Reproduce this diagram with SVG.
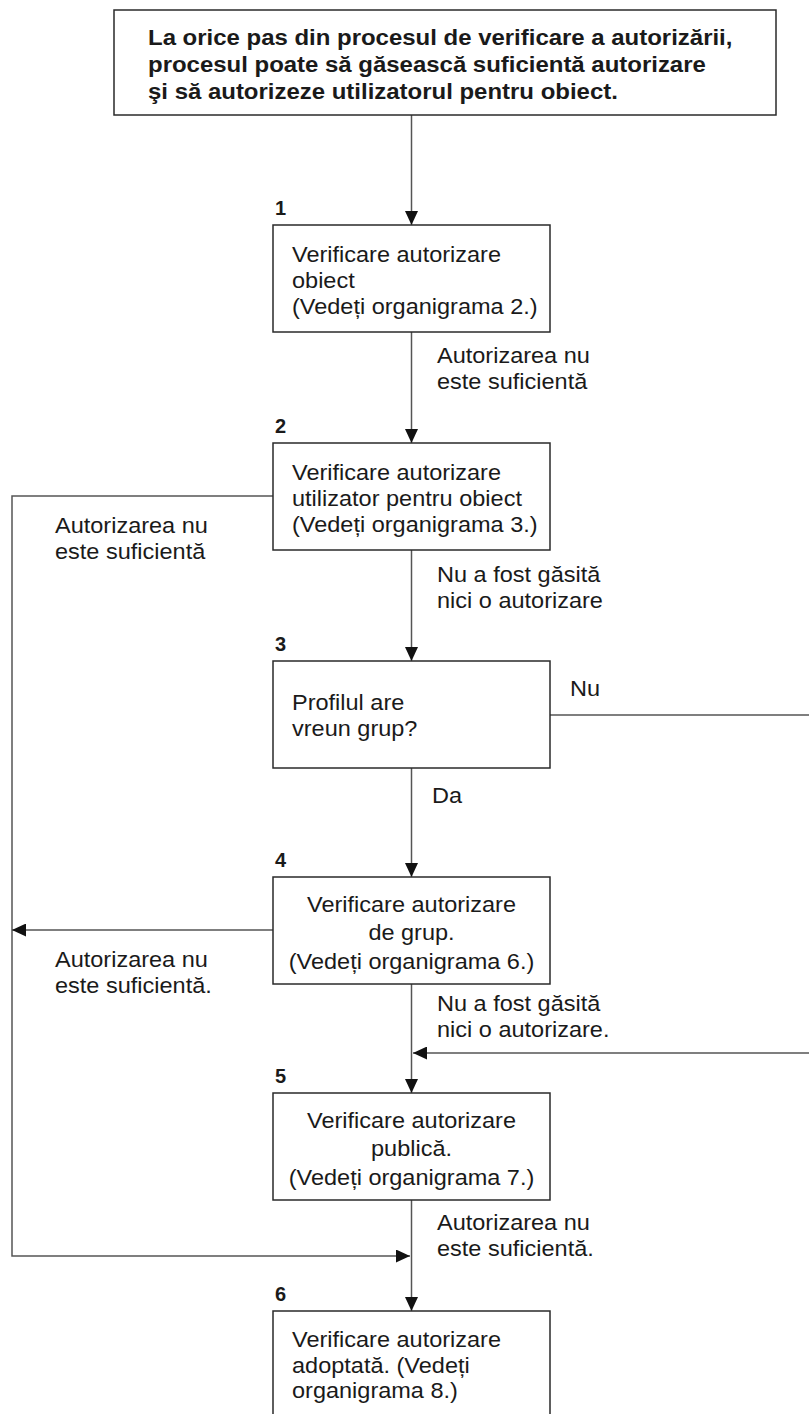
<svg xmlns="http://www.w3.org/2000/svg" width="809" height="1414" viewBox="0 0 809 1414">
  <style>
    .box { fill: #ffffff; stroke: #2a2a2a; stroke-width: 1.5; }
    .wire { fill: none; stroke: #555555; stroke-width: 1.5; }
    .t { font-family: "Liberation Sans", Arial, sans-serif; font-size: 22.5px; fill: #1a1a1a; }
    .c { text-anchor: middle; }
    .head { font-family: "Liberation Sans", Arial, sans-serif; font-size: 22.5px; font-weight: bold; fill: #1a1a1a; }
    .num { font-family: "Liberation Sans", Arial, sans-serif; font-size: 20px; font-weight: bold; fill: #1a1a1a; }
  </style>
  <defs>
    <marker id="arrow" viewBox="0 0 14 13" refX="14" refY="6.5" markerWidth="14" markerHeight="13" markerUnits="userSpaceOnUse" orient="auto">
      <path d="M0,0 L14,6.5 L0,13 Z" fill="#111111"/>
    </marker>
  </defs>
  <rect width="809" height="1414" fill="#ffffff"/>

  <!-- connectors and their labels; texts are widened slightly (scale 1.045 / 1.065) -->
  <g id="connectors">
    <line class="wire" x1="411.5" y1="115" x2="411.5" y2="225" marker-end="url(#arrow)"/>
    <line class="wire" x1="411.5" y1="332" x2="411.5" y2="443" marker-end="url(#arrow)"/>
    <line class="wire" x1="411.5" y1="550" x2="411.5" y2="661" marker-end="url(#arrow)"/>
    <line class="wire" x1="411.5" y1="768" x2="411.5" y2="877" marker-end="url(#arrow)"/>
    <line class="wire" x1="411.5" y1="984" x2="411.5" y2="1093" marker-end="url(#arrow)"/>
    <line class="wire" x1="411.5" y1="1200" x2="411.5" y2="1311" marker-end="url(#arrow)"/>
    <!-- left bypass: from step 2 down to step 6 -->
    <polyline class="wire" points="273,496 12,496 12,1256 410,1256" marker-end="url(#arrow)"/>
    <!-- step 4 back to the bypass -->
    <line class="wire" x1="273" y1="930" x2="12" y2="930" marker-end="url(#arrow)"/>
    <!-- "Nu" branch from step 3, returning above step 5 -->
    <line class="wire" x1="550" y1="715" x2="809" y2="715"/>
    <line class="wire" x1="809" y1="1053" x2="413" y2="1053" marker-end="url(#arrow)"/>

    <text class="t" transform="translate(437,363) scale(1.045,1)">Autorizarea nu</text>
    <text class="t" transform="translate(437,389) scale(1.045,1)">este suficientă</text>
    <text class="t" transform="translate(55,533) scale(1.045,1)">Autorizarea nu</text>
    <text class="t" transform="translate(55,559) scale(1.045,1)">este suficientă</text>
    <text class="t" transform="translate(437,582) scale(1.045,1)">Nu a fost găsită</text>
    <text class="t" transform="translate(437,608) scale(1.045,1)">nici o autorizare</text>
    <text class="t" transform="translate(570,696) scale(1.045,1)">Nu</text>
    <text class="t" transform="translate(432,803) scale(1.045,1)">Da</text>
    <text class="t" transform="translate(55,967) scale(1.045,1)">Autorizarea nu</text>
    <text class="t" transform="translate(55,993) scale(1.045,1)">este suficientă.</text>
    <text class="t" transform="translate(437,1011) scale(1.045,1)">Nu a fost găsită</text>
    <text class="t" transform="translate(437,1037) scale(1.045,1)">nici o autorizare.</text>
    <text class="t" transform="translate(437,1230) scale(1.045,1)">Autorizarea nu</text>
    <text class="t" transform="translate(437,1256) scale(1.045,1)">este suficientă.</text>
  </g>

  <g id="intro">
    <rect class="box" x="114" y="10" width="662" height="105"/>
    <text class="head" transform="translate(148,45) scale(1.065,1)">La orice pas din procesul de verificare a autorizării,</text>
    <text class="head" transform="translate(148,72) scale(1.065,1)">procesul poate să găsească suficientă autorizare</text>
    <text class="head" transform="translate(148,99) scale(1.065,1)">şi să autorizeze utilizatorul pentru obiect.</text>
  </g>

  <g id="step1">
    <text class="num" x="275" y="215">1</text>
    <rect class="box" x="273" y="225" width="277" height="107"/>
    <text class="t" transform="translate(292,262) scale(1.045,1)">Verificare autorizare</text>
    <text class="t" transform="translate(292,288) scale(1.045,1)">obiect</text>
    <text class="t" transform="translate(292,314) scale(1.045,1)">(Vedeți organigrama 2.)</text>
  </g>

  <g id="step2">
    <text class="num" x="275" y="433">2</text>
    <rect class="box" x="273" y="443" width="277" height="107"/>
    <text class="t" transform="translate(292,480) scale(1.045,1)">Verificare autorizare</text>
    <text class="t" transform="translate(292,506) scale(1.045,1)">utilizator pentru obiect</text>
    <text class="t" transform="translate(292,532) scale(1.045,1)">(Vedeți organigrama 3.)</text>
  </g>

  <g id="step3">
    <text class="num" x="275" y="651">3</text>
    <rect class="box" x="273" y="661" width="277" height="107"/>
    <text class="t" transform="translate(292,710) scale(1.045,1)">Profilul are</text>
    <text class="t" transform="translate(292,736) scale(1.045,1)">vreun grup?</text>
  </g>

  <g id="step4">
    <text class="num" x="275" y="867">4</text>
    <rect class="box" x="273" y="877" width="277" height="107"/>
    <text class="t c" transform="translate(411.5,912) scale(1.045,1)">Verificare autorizare</text>
    <text class="t c" transform="translate(411.5,940) scale(1.045,1)">de grup.</text>
    <text class="t c" transform="translate(411.5,969) scale(1.045,1)">(Vedeți organigrama 6.)</text>
  </g>

  <g id="step5">
    <text class="num" x="275" y="1083">5</text>
    <rect class="box" x="273" y="1093" width="277" height="107"/>
    <text class="t c" transform="translate(411.5,1128) scale(1.045,1)">Verificare autorizare</text>
    <text class="t c" transform="translate(411.5,1156) scale(1.045,1)">publică.</text>
    <text class="t c" transform="translate(411.5,1185) scale(1.045,1)">(Vedeți organigrama 7.)</text>
  </g>

  <g id="step6">
    <text class="num" x="275" y="1301">6</text>
    <rect class="box" x="273" y="1311" width="277" height="120"/>
    <text class="t" transform="translate(292,1347) scale(1.045,1)">Verificare autorizare</text>
    <text class="t" transform="translate(292,1373) scale(1.045,1)">adoptată. (Vedeți</text>
    <text class="t" transform="translate(292,1398) scale(1.045,1)">organigrama 8.)</text>
  </g>
</svg>
